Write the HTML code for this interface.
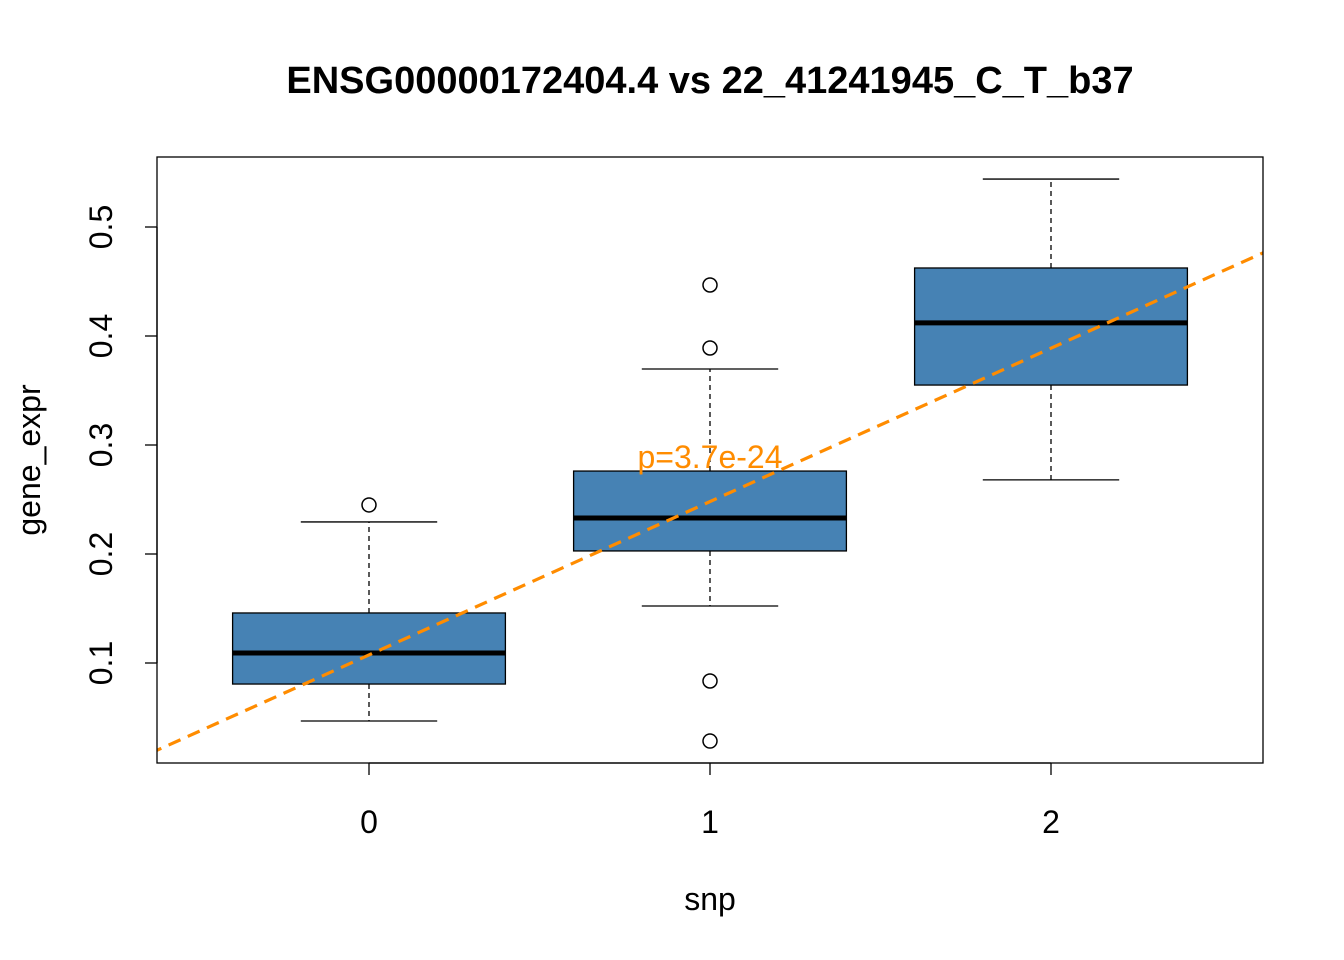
<!DOCTYPE html>
<html><head><meta charset="utf-8"><style>
html,body{margin:0;padding:0;background:#fff;}
svg{display:block;font-family:"Liberation Sans",Arial,sans-serif;}
</style></head><body>
<svg id="chart" width="1344" height="960" viewBox="0 0 1344 960">
<defs><clipPath id="clip"><rect x="157" y="157" width="1106" height="606"/></clipPath></defs>
<text x="710" y="93" text-anchor="middle" font-size="38" font-weight="bold">ENSG00000172404.4 vs 22_41241945_C_T_b37</text>
<g id="marks"></g>
<rect x="157" y="157" width="1106" height="606" fill="none" stroke="#000" stroke-width="1.3"/>
<text x="710" y="910" text-anchor="middle" font-size="32">snp</text>
<text transform="translate(40,460) rotate(-90)" text-anchor="middle" font-size="32">gene_expr</text>
</svg>
<script>
const categories = [0, 1, 2];
const lowWhisker = [0.0468, 0.1523, 0.268];
const q1 = [0.0807, 0.2028, 0.355];
const medians = [0.1092, 0.233, 0.412];
const q3 = [0.1459, 0.2761, 0.4624];
const highWhisker = [0.2294, 0.3697, 0.544];
const outlierGroup = [0, 1, 1, 1, 1];
const outlierValues = [0.245, 0.389, 0.4468, 0.0835, 0.0284];
const yTicks = [0.1, 0.2, 0.3, 0.4, 0.5];
const xTickLabels = ["0", "1", "2"];
const regIntercept = 0.1074;
const regSlope = 0.1407;
const pLabel = "p=3.7e-24";

const NS = "http://www.w3.org/2000/svg";
const marks = document.getElementById('marks');
const X = v => 369 + v * 341;
const Y = v => 663 - (v - 0.1) * 1090;
function mk(tag, attrs, parent) {
  const e = document.createElementNS(NS, tag);
  for (const k in attrs) e.setAttribute(k, attrs[k]);
  (parent || marks).appendChild(e);
  return e;
}
mk('line', {x1:157, x2:157, y1:Y(yTicks[0]), y2:Y(yTicks[yTicks.length-1]), stroke:'#000', 'stroke-width':1.3});
yTicks.forEach(t => {
  const l = mk('line', {x1:145, x2:157, y1:Y(t), y2:Y(t), stroke:'#000', 'stroke-width':1.3});
  
  
  const tx = mk('text', {transform:`translate(112,${Y(t)}) rotate(-90)`, 'text-anchor':'middle', 'font-size':32});
  tx.textContent = t.toFixed(1);
  
  
});
mk('line', {x1:X(0), x2:X(2), y1:763, y2:763, stroke:'#000', 'stroke-width':1.3});
categories.forEach((c, i) => {
  const l = mk('line', {x1:X(c), x2:X(c), y1:763, y2:775, stroke:'#000', 'stroke-width':1.3});
  
  
  const tx = mk('text', {x:X(c), y:833, 'text-anchor':'middle', 'font-size':32});
  tx.textContent = xTickLabels[i];
  
  
});
categories.forEach((c, i) => {
  const g = mk('g', {});
  
  
  const cx = X(c), hw = 0.4 * 341, cw = 0.2 * 341;
  mk('line', {x1:cx, x2:cx, y1:Y(q3[i]), y2:Y(highWhisker[i]), stroke:'#000', 'stroke-width':1.3, 'stroke-dasharray':'5,4'}, g);
  mk('line', {x1:cx, x2:cx, y1:Y(q1[i]), y2:Y(lowWhisker[i]), stroke:'#000', 'stroke-width':1.3, 'stroke-dasharray':'5,4'}, g);
  mk('line', {x1:cx-cw, x2:cx+cw, y1:Y(highWhisker[i]), y2:Y(highWhisker[i]), stroke:'#000', 'stroke-width':1.3}, g);
  mk('line', {x1:cx-cw, x2:cx+cw, y1:Y(lowWhisker[i]), y2:Y(lowWhisker[i]), stroke:'#000', 'stroke-width':1.3}, g);
  mk('rect', {x:cx-hw, y:Y(q3[i]), width:2*hw, height:Y(q1[i])-Y(q3[i]), fill:'#4682b4', stroke:'#000', 'stroke-width':1.3}, g);
  mk('line', {x1:cx-hw, x2:cx+hw, y1:Y(medians[i]), y2:Y(medians[i]), stroke:'#000', 'stroke-width':5}, g);
});
outlierValues.forEach((v, i) => {
  const c = mk('circle', {cx:X(categories[outlierGroup[i]]), cy:Y(v), r:7, fill:'none', stroke:'#000', 'stroke-width':1.5});
  
  
});
const x0 = -0.7, x1 = 2.7;
const rl = mk('line', {x1:X(x0), x2:X(x1), y1:Y(regIntercept + regSlope*x0), y2:Y(regIntercept + regSlope*x1), stroke:'#ff8c00', 'stroke-width':3.2, 'stroke-dasharray':'13,8', 'clip-path':'url(#clip)'});


const pt = mk('text', {x:X(1), y:468, 'text-anchor':'middle', 'font-size':32, fill:'#ff8c00'});
pt.textContent = pLabel;


</script>
</body></html>
